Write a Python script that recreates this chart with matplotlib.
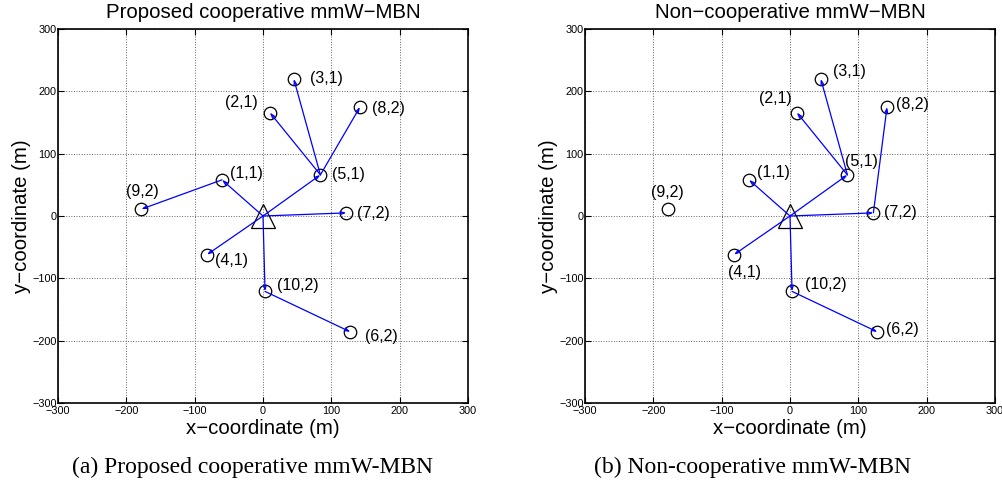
import numpy as np
import matplotlib
matplotlib.use('Agg')
import matplotlib.pyplot as plt

plt.rcParams['font.family'] = ['Liberation Sans', 'DejaVu Sans']

# node names and positions (m)
names = ['(1,1)', '(2,1)', '(3,1)', '(4,1)', '(5,1)',
         '(6,2)', '(7,2)', '(8,2)', '(9,2)', '(10,2)']
node_x = [-60, 10, 45, -82, 84, 128, 122, 142, -178, 3]
node_y = [58, 166, 220, -62, 66, -186, 5, 175, 11, -121]
bs_x, bs_y = 0, 0

# links (from, to) ; 'BS' is the triangle
links_coop = [('BS', '(1,1)'), ('(1,1)', '(9,2)'), ('BS', '(5,1)'),
              ('(5,1)', '(2,1)'), ('(5,1)', '(3,1)'), ('(5,1)', '(8,2)'),
              ('BS', '(7,2)'), ('BS', '(4,1)'), ('BS', '(10,2)'),
              ('(10,2)', '(6,2)')]
links_noncoop = [('BS', '(1,1)'), ('BS', '(5,1)'), ('(5,1)', '(2,1)'),
                 ('(5,1)', '(3,1)'), ('BS', '(7,2)'), ('(7,2)', '(8,2)'),
                 ('BS', '(4,1)'), ('BS', '(10,2)'), ('(10,2)', '(6,2)')]

# label anchor (left, centre) in data units
lab_coop = {'(1,1)': (-49, 68), '(2,1)': (-55, 182), '(3,1)': (69, 220),
            '(4,1)': (-70, -72), '(5,1)': (101, 67), '(6,2)': (149, -194),
            '(7,2)': (138, 4), '(8,2)': (160, 173), '(9,2)': (-201, 40),
            '(10,2)': (20, -111)}
lab_noncoop = {'(1,1)': (-49, 70), '(2,1)': (-46, 188), '(3,1)': (63, 232),
               '(4,1)': (-91, -90), '(5,1)': (80, 87), '(6,2)': (140, -182),
               '(7,2)': (137, 6), '(8,2)': (155, 179), '(9,2)': (-204, 37),
               '(10,2)': (22, -110)}

titles = ['Proposed cooperative mmW\u2212MBN', 'Non\u2212cooperative mmW\u2212MBN']
captions = ['(a) Proposed cooperative mmW-MBN', '(b) Non-cooperative mmW-MBN']

pos = {n: (x, y) for n, x, y in zip(names, node_x, node_y)}
pos['BS'] = (bs_x, bs_y)

fig = plt.figure(figsize=(10.02, 4.83), dpi=100)
W, H = 1002, 483
axes_px = [(58, 29, 410, 374), (585, 29, 410, 374)]
cap_x = [253, 752]

for k, (links, labs) in enumerate([(links_coop, lab_coop), (links_noncoop, lab_noncoop)]):
    l, t, w, h = axes_px[k]
    ax = fig.add_axes([l / W, 1 - (t + h) / H, w / W, h / H])
    for a, b in links:
        ax.annotate('', xy=pos[b], xytext=pos[a],
                    arrowprops=dict(arrowstyle='->,head_length=0.3,head_width=0.1',
                                    color='#0000ff', lw=0.9, shrinkA=0, shrinkB=0))
    ax.plot(node_x, node_y, 'o', mfc='none', mec='black', ms=9, mew=0.9)
    ax.plot([bs_x], [bs_y], '^', mfc='none', mec='black', ms=17, mew=0.9)
    for n in names:
        tx, ty = labs[n]
        ax.text(tx, ty, n, fontsize=11.5, ha='left', va='center')
    ax.set_xlim(-300, 300)
    ax.set_ylim(-300, 300)
    ax.set_xticks(np.arange(-300, 301, 100))
    ax.set_yticks(np.arange(-300, 301, 100))
    ax.grid(True, linestyle=':', color='#666666', lw=0.7)
    ax.tick_params(direction='in', top=True, right=True, labelsize=7.8,
                   length=4, width=0.8, pad=1)
    ax.tick_params(axis='x', pad=2.5)
    for s in ax.spines.values():
        s.set_linewidth(1.2)
    ax.set_title(titles[k], fontsize=14.7, pad=8)
    ax.set_xlabel('x\u2212coordinate (m)', fontsize=14.7, labelpad=2)
    ax.set_ylabel('y\u2212coordinate (m)', fontsize=14.7, labelpad=1)
    fig.text(cap_x[k] / W, 1 - 467 / H, captions[k], fontsize=17,
             family=['Liberation Serif', 'DejaVu Serif'], ha='center', va='center')

fig.savefig('out.png', dpi=100)
